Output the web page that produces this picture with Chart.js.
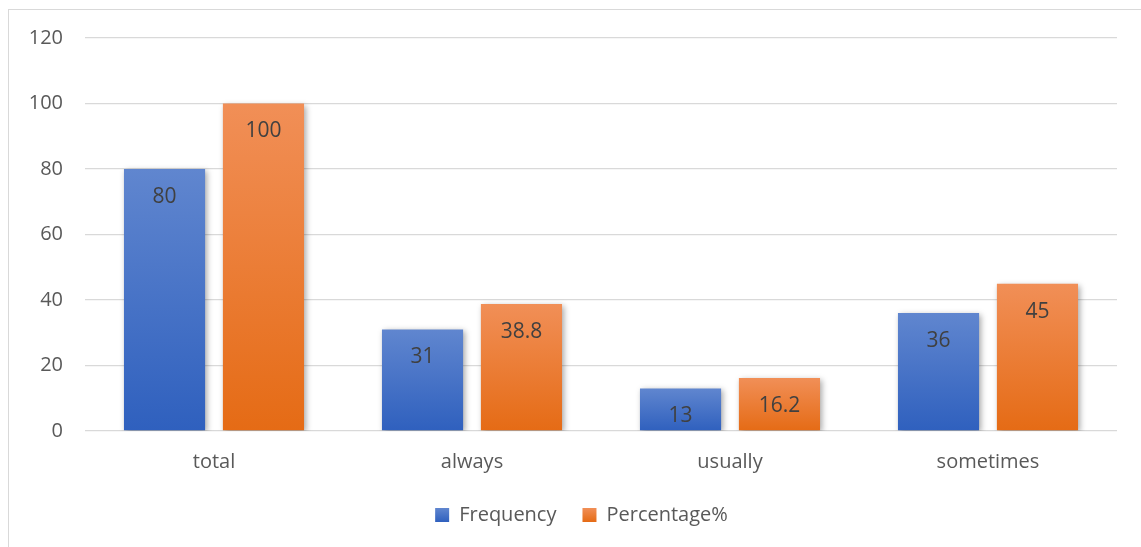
<!DOCTYPE html>
<html>
<head>
<meta charset="utf-8">
<script src="https://cdn.jsdelivr.net/npm/chart.js@4.4.1/dist/chart.umd.min.js"></script>
<style>
  html, body { margin: 0; padding: 0; background: #ffffff; }
  #wrap { width: 1141px; height: 547px; position: relative; }
</style>
</head>
<body>
<div id="wrap"><canvas id="chart" width="1141" height="547"></canvas></div>
<script>
// Response categories
const categories = ['total', 'always', 'usually', 'sometimes'];
// Series values
const frequency = [80, 31, 13, 36];
const percentage = [100, 38.8, 16.2, 45];
// Value axis ticks
const yTicks = [0, 20, 40, 60, 80, 100, 120];

const FONT = '"Open Sans", "Liberation Sans", sans-serif';
const TEXT = '#595959';

// Top/bottom colour stops for each series
const palette = {
  blue:   { top: '#6086CF', bottom: '#2F60BE', mid: '#4472C4' },
  orange: { top: '#F18F57', bottom: '#E56B15', mid: '#ED7D31' }
};

function barGradient(stops) {
  return function (ctx) {
    const chart = ctx.chart;
    if (ctx.type !== 'data' || !chart.chartArea || !chart.scales.y) return stops.mid;
    const y = chart.scales.y;
    const top = y.getPixelForValue(ctx.parsed.y);
    const base = y.getPixelForValue(0);
    const g = chart.ctx.createLinearGradient(0, top, 0, base);
    g.addColorStop(0, stops.top);
    g.addColorStop(1, stops.bottom);
    return g;
  };
}

// Outer frame of the chart panel
const framePlugin = {
  id: 'frame',
  beforeDraw(chart) {
    const c = chart.ctx;
    c.save();
    c.fillStyle = '#ffffff';
    c.fillRect(0, 0, chart.width, chart.height);
    c.strokeStyle = '#d9d9d9';
    c.lineWidth = 1;
    c.strokeRect(8.5, 9.5, chart.width + 20, chart.height + 20);
    c.restore();
  }
};

// Legend sits a little right of the canvas centre
const legendOffset = {
  id: 'legendOffset',
  afterLayout(chart) {
    if (chart.legend) {
      chart.legend.left += 23;
      chart.legend.right += 23;
    }
  }
};

// Soft drop shadow under the bars
const shadowPlugin = {
  id: 'barShadow',
  beforeDatasetsDraw(chart) {
    const c = chart.ctx;
    c.save();
    c.shadowColor = 'rgba(0,0,0,0.35)';
    c.shadowBlur = 6;
    c.shadowOffsetX = 2;
    c.shadowOffsetY = 2;
  },
  afterDatasetsDraw(chart) {
    chart.ctx.restore();
  }
};

// Value labels just inside the top of each bar
const valueLabels = {
  id: 'valueLabels',
  afterDatasetsDraw(chart) {
    const c = chart.ctx;
    c.save();
    c.font = '21px ' + FONT;
    c.fillStyle = '#404040';
    c.textAlign = 'center';
    c.textBaseline = 'middle';
    chart.data.datasets.forEach((ds, di) => {
      const meta = chart.getDatasetMeta(di);
      meta.data.forEach((bar, i) => {
        c.fillText(String(ds.data[i]), bar.x, bar.y + 28);
      });
    });
    c.restore();
  }
};

function legendGradient(chart, stops) {
  const g = chart.ctx.createLinearGradient(0, 508, 0, 522);
  g.addColorStop(0, stops.top);
  g.addColorStop(1, stops.bottom);
  return g;
}

new Chart(document.getElementById('chart'), {
  type: 'bar',
  data: {
    labels: categories,
    datasets: [
      {
        label: 'Frequency',
        data: frequency,
        backgroundColor: barGradient(palette.blue),
        borderWidth: 0,
        categoryPercentage: 0.767,
        barPercentage: 0.82
      },
      {
        label: 'Percentage%',
        data: percentage,
        backgroundColor: barGradient(palette.orange),
        borderWidth: 0,
        categoryPercentage: 0.767,
        barPercentage: 0.82
      }
    ]
  },
  options: {
    responsive: false,
    animation: false,
    devicePixelRatio: 1,
    layout: { padding: { top: 38, right: 24, bottom: 12, left: 0 } },
    scales: {
      x: {
        grid: { display: false },
        border: { display: false },
        ticks: { color: TEXT, font: { family: FONT, size: 20 }, padding: 11 },
        afterFit(scale) { scale.height = 48; }
      },
      y: {
        min: 0,
        max: 120,
        afterBuildTicks(scale) { scale.ticks = yTicks.map(v => ({ value: v })); },
        grid: { color: '#d9d9d9', lineWidth: 1.3, drawTicks: false },
        border: { display: false },
        ticks: { color: TEXT, font: { family: FONT, size: 20 }, padding: 22 },
        afterFit(scale) { scale.width = 85; }
      }
    },
    plugins: {
      tooltip: { enabled: false },
      legend: {
        position: 'bottom',
        labels: {
          color: TEXT,
          font: { family: FONT, size: 20 },
          boxWidth: 14,
          boxHeight: 14,
          padding: 26,
          generateLabels(chart) {
            const cols = [palette.blue, palette.orange];
            return chart.data.datasets.map((ds, i) => ({
              text: ds.label,
              fillStyle: legendGradient(chart, cols[i]),
              strokeStyle: 'rgba(0,0,0,0)',
              lineWidth: 0,
              fontColor: TEXT,
              hidden: false,
              datasetIndex: i
            }));
          }
        }
      }
    }
  },
  plugins: [framePlugin, legendOffset, shadowPlugin, valueLabels]
});
</script>
</body>
</html>
